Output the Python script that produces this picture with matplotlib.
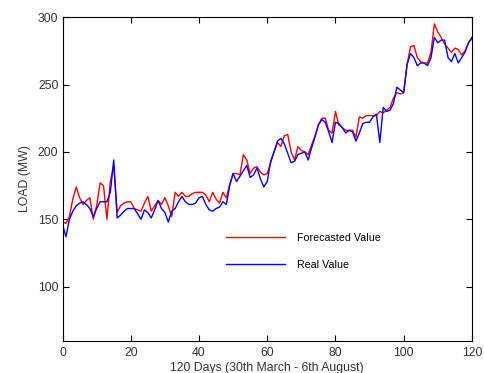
import numpy as np
import matplotlib
matplotlib.use("Agg")
import matplotlib.pyplot as plt

# --- data (daily load, MW) ---
days = np.arange(0, 121)

real_load = [
    146, 137, 150, 156, 160, 162, 163, 161, 158, 152,
    158, 163, 163, 163, 170, 194, 151, 153, 156, 158,
    158, 158, 154, 150, 157, 155, 151, 157, 164, 158,
    155, 148, 156, 158, 163, 167, 163, 161, 161, 162,
    166, 167, 161, 157, 156, 158, 159, 163, 161, 175,
    184, 178, 182, 186, 190, 181, 183, 188, 180, 174,
    178, 193, 200, 208, 210, 206, 199, 192, 193, 198,
    199, 200, 194, 203, 211, 220, 224, 222, 215, 207,
    222, 221, 218, 214, 216, 215, 208, 214, 221, 222,
    222, 226, 228, 207, 233, 230, 231, 236, 248, 246,
    244, 265, 273, 270, 264, 266, 266, 264, 270, 285,
    281, 283, 283, 270, 267, 273, 266, 270, 274, 281,
    285,
]

forecast_load = [
    148, 147, 152, 165, 174, 166, 161, 164, 166, 150,
    160, 177, 175, 150, 178, 190, 155, 160, 162, 163,
    163, 158, 157, 156, 162, 167, 156, 160, 164, 161,
    166, 160, 152, 170, 167, 170, 167, 167, 169, 170,
    170, 170, 168, 163, 170, 165, 162, 170, 166, 176,
    184, 184, 183, 198, 194, 184, 188, 189, 185, 183,
    184, 192, 200, 207, 204, 212, 213, 200, 194, 204,
    201, 200, 198, 205, 212, 220, 225, 225, 216, 214,
    230, 220, 218, 216, 216, 216, 211, 226, 225, 227,
    227, 227, 227, 230, 229, 231, 233, 240, 244, 243,
    244, 265, 278, 279, 270, 267, 266, 266, 274, 295,
    289, 285, 280, 277, 274, 277, 276, 272, 275, 281,
    284,
]

x_ticks = [0, 20, 40, 60, 80, 100, 120]
y_ticks = [100, 150, 200, 250, 300]

plt.rcParams["font.family"] = ["Liberation Sans", "DejaVu Sans"]

fig = plt.figure(figsize=(4.85, 3.73), dpi=100)
ax = fig.add_axes([0.129, 0.087, 0.844, 0.867])

ax.plot(days, forecast_load, color="#ff0000", lw=1.0, label="Forecasted Value")
ax.plot(days, real_load, color="#0000ff", lw=1.0, label="Real Value")

ax.set_xlim(0, 120)
ax.set_ylim(60, 300)
ax.set_xticks(x_ticks)
ax.set_yticks(y_ticks)
ax.tick_params(direction="in", length=4, width=0.8, labelsize=8.8,
               top=True, right=True, colors="black", labelcolor="#333333")
ax.tick_params(axis="x", pad=5)
ax.tick_params(axis="y", pad=3)
for s in ax.spines.values():
    s.set_linewidth(0.8)

ax.set_xlabel("120 Days (30th March - 6th August)", fontsize=8.8, labelpad=2, color="#333333")
ax.set_ylabel("LOAD (MW)", fontsize=8.8, labelpad=5, color="#333333")

ax.legend(loc="center left", bbox_to_anchor=(0.40, 0.275), frameon=False,
          fontsize=7.7, handlelength=5.5, handletextpad=1.1, labelspacing=1.6,
          borderpad=0, borderaxespad=0)

fig.savefig("out.png", dpi=100)
